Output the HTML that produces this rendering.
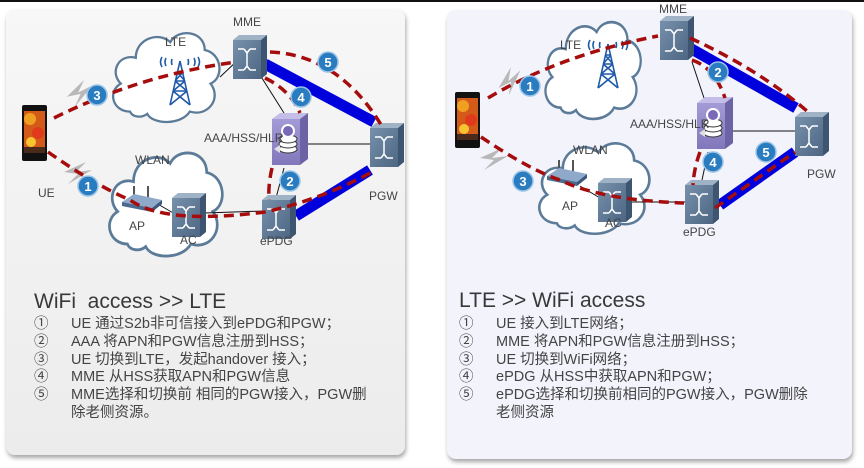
<!DOCTYPE html>
<html><head><meta charset="utf-8">
<style>
html,body{margin:0;padding:0;background:#fff;}
body{width:864px;height:468px;position:relative;overflow:hidden;font-family:"Liberation Sans","Noto Sans CJK SC",sans-serif;}
.panel{position:absolute;border-radius:9px;box-shadow:1px 3px 4px rgba(0,0,0,0.35);}
#p1{left:6px;top:9px;width:399px;height:446px;background:linear-gradient(#f7f7f7,#ececec);}
#p2{left:447px;top:10px;width:405px;height:449px;background:#f3f3fc;}
.t{position:absolute;color:#383838;font-size:21px;}
.l{position:absolute;color:#444;font-size:14.5px;line-height:17.8px;}
.l div{position:relative;padding-left:37px;white-space:nowrap;}
.l div span{position:absolute;left:0;}
svg{position:absolute;left:0;top:0;}
</style></head><body>
<div style="position:absolute;left:0;top:0;width:864px;height:2px;background:#111"></div>
<div class="panel" id="p1"></div>
<div class="panel" id="p2"></div>
<svg width="864" height="468" viewBox="0 0 864 468">
<defs>
<path id="cloud" d="M20,80 C5,80 0,62 12,55 C2,45 10,28 25,32 C25,15 45,8 55,18 C62,5 85,8 85,25 C100,28 102,50 90,55 C100,68 88,85 72,80 C65,92 40,92 35,82 C30,86 22,85 20,80 Z"/>
<linearGradient id="gs" x1="0" y1="0" x2="1" y2="1"><stop offset="0" stop-color="#7790ab"/><stop offset="1" stop-color="#4c6683"/></linearGradient>
<linearGradient id="ga" x1="0" y1="0" x2="0" y2="1"><stop offset="0" stop-color="#a39bd6"/><stop offset="1" stop-color="#8177bb"/></linearGradient>
<g id="sw">
<polygon points="0,5 6,0 34,0 28,5" fill="#9fb2c6"/>
<polygon points="28,5 34,0 34,39 28,44" fill="#3d5571"/>
<rect x="0" y="5" width="28" height="39" fill="url(#gs)"/>
<g stroke="#fff" stroke-width="1.5" fill="none">
<path d="M5,14 h6 M17,14 h6 M5,35 h6 M17,35 h6 M14,18 v13 M11,14 L14,18 M17,14 L14,18 M11,35 L14,31 M17,35 L14,31"/>
</g>
</g>
<g id="aaa">
<polygon points="0,6 8,0 36,0 28,6" fill="#c4bde8"/>
<polygon points="28,6 36,0 36,46 28,52" fill="#6c63a6"/>
<rect x="0" y="6" width="28" height="46" fill="url(#ga)"/>
<ellipse cx="16" cy="36" rx="9" ry="4" fill="#fff" stroke="#333" stroke-width="1"/>
<ellipse cx="16" cy="31" rx="9" ry="4" fill="#fff" stroke="#333" stroke-width="1"/>
<ellipse cx="16" cy="26" rx="9" ry="4" fill="#fff" stroke="#333" stroke-width="1"/>
<circle cx="16" cy="18" r="7" fill="#fff"/>
<circle cx="16" cy="18" r="5" fill="#7a68b8"/>
<path d="M2,36 l6,-4 v8 z" fill="#e0e0e0"/>
</g>
<g id="phone">
<rect x="0" y="0" width="25" height="56" rx="2" fill="#111"/>
<rect x="2" y="6" width="21" height="42" fill="#d45a1a"/>
<circle cx="8" cy="14" r="6" fill="#f0a020"/>
<circle cx="16" cy="28" r="6" fill="#e03a1a"/>
<circle cx="9" cy="37" r="5" fill="#f7c530"/>
<rect x="2" y="42" width="21" height="6" fill="#4a2a1a"/>
</g>
<g id="tower" stroke="#1e5aa8" stroke-width="1.6" fill="none">
<path d="M0,44 L10,0 L20,44 M3,30 H17 M5,20 H15 M7,11 H13 M3,30 L15,20 M5,20 L17,30 M5,20 L13,11 M7,11 L15,20 M0,44 L17,30 M3,30 L20,44"/>
<path d="M-8,-4 q-3,5 0,10 M-4,-3 q-2,4 0,8 M28,-4 q3,5 0,10 M24,-3 q2,4 0,8 M2,-2 q-1,3 0,6 M18,-2 q1,3 0,6"/>
</g>
<g id="router">
<line x1="12" y1="0" x2="12" y2="12" stroke="#555" stroke-width="2"/>
<line x1="26" y1="0" x2="26" y2="12" stroke="#555" stroke-width="2"/>
<polygon points="0,16 12,8 40,14 30,22" fill="#8ea9c9"/>
<polygon points="0,16 30,22 30,26 0,20" fill="#4b6a90"/>
<polygon points="30,22 40,14 40,18 30,26" fill="#3a587d"/>
</g>
<polygon id="bolt" points="0,10 22,0 12,10 28,8 4,22 14,12" fill="#b8b8b8"/>
</defs>

<!-- LEFT PANEL -->
<g fill="#fff" stroke="#5b7b98" stroke-width="2.2">
<use href="#cloud" transform="translate(107,22) scale(1.15,1.12)" style="stroke-width:2"/>
<use href="#cloud" transform="translate(103,140) scale(1.22,1.3)"/>
</g>
<g stroke="#111" stroke-width="1" fill="none">
<line x1="220" y1="77" x2="238" y2="60"/>
<line x1="260" y1="75" x2="284" y2="113"/>
<line x1="307" y1="144" x2="372" y2="144"/>
<line x1="156" y1="203" x2="175" y2="214"/>
<line x1="205" y1="213" x2="264" y2="211"/>
<line x1="284" y1="168" x2="276" y2="198"/>
</g>
<line x1="265" y1="64" x2="374" y2="122" stroke="#0000dd" stroke-width="11"/>
<line x1="296" y1="216" x2="370" y2="170" stroke="#0000dd" stroke-width="11"/>
<use href="#tower" x="170" y="61"/>
<use href="#router" x="122" y="186"/>
<use href="#sw" x="233" y="35"/>
<use href="#sw" x="370" y="123"/>
<use href="#sw" x="262" y="195"/>
<use href="#sw" x="172" y="193"/>
<use href="#aaa" x="272" y="113"/>
<use href="#phone" x="22" y="105"/>
<use href="#bolt" x="66" y="82" transform="rotate(-20 80 92)"/>
<use href="#bolt" x="64" y="162"/>
<g fill="none" stroke="#a50d0d" stroke-width="3.5" stroke-dasharray="10 6">
<path d="M54,118 Q140,75 236,62"/>
<path d="M270,52 Q340,55 383,128"/>
<path d="M265,78 Q290,90 300,113"/>
<path d="M272,168 Q268,185 269,200"/>
<path d="M48,152 Q95,185 130,200 Q165,225 265,212 Q320,200 372,172"/>
</g>
<g font-family="Liberation Sans" font-size="12" fill="#444">
<text x="233" y="26">MME</text>
<text x="165" y="46">LTE</text>
<text x="135" y="164">WLAN</text>
<text x="129" y="230">AP</text>
<text x="180" y="244">AC</text>
<text x="260" y="245">ePDG</text>
<text x="369" y="200">PGW</text>
<text x="38" y="197">UE</text>
<text x="204" y="142">AAA/HSS/HLR</text>
</g>

<!-- RIGHT PANEL -->
<g fill="#fff" stroke="#5b7b98" stroke-width="2.2">
<use href="#cloud" transform="translate(540,10) scale(1.03,1.22)"/>
<use href="#cloud" transform="translate(533,132) scale(1.19,1.14)"/>
</g>
<g stroke="#111" stroke-width="1" fill="none">
<line x1="692" y1="62" x2="704" y2="98"/>
<line x1="731" y1="131" x2="797" y2="131"/>
<line x1="580" y1="186" x2="600" y2="198"/>
<line x1="624" y1="202" x2="687" y2="202"/>
<line x1="708" y1="152" x2="702" y2="180"/>
</g>
<line x1="688" y1="47" x2="796" y2="108" stroke="#0000dd" stroke-width="11"/>
<line x1="720" y1="205" x2="795" y2="152" stroke="#0000dd" stroke-width="11"/>
<use href="#tower" x="598" y="44"/>
<use href="#router" x="547" y="160"/>
<use href="#sw" x="660" y="16"/>
<use href="#sw" x="795" y="112"/>
<use href="#sw" x="685" y="180"/>
<use href="#sw" x="598" y="178"/>
<use href="#aaa" x="697" y="97"/>
<use href="#phone" x="455" y="92"/>
<use href="#bolt" x="496" y="70" transform="rotate(-35 510 80)"/>
<use href="#bolt" x="480" y="148"/>
<g fill="none" stroke="#a50d0d" stroke-width="3.5" stroke-dasharray="10 6">
<path d="M488,98 Q560,55 658,36"/>
<path d="M690,38 Q760,70 808,112"/>
<path d="M692,60 Q715,68 725,98"/>
<path d="M700,152 Q694,168 693,185"/>
<path d="M481,137 Q530,170 560,180 Q600,200 684,203"/>
<path d="M715,208 L795,152"/>
</g>
<g font-family="Liberation Sans" font-size="12" fill="#444">
<text x="659" y="13">MME</text>
<text x="560" y="49">LTE</text>
<text x="573" y="154">WLAN</text>
<text x="562" y="210">AP</text>
<text x="605" y="227">AC</text>
<text x="683" y="236">ePDG</text>
<text x="807" y="178">PGW</text>
<text x="630" y="128">AAA/HSS/HLR</text>
</g>

<!-- BADGES -->
<g font-family="Liberation Sans" font-weight="bold" font-size="13" fill="#fff" text-anchor="middle">
<g><circle cx="97" cy="95" r="10" fill="#2a7cc1" stroke="#9cc4e6" stroke-width="1.5"/><text x="97" y="100">3</text></g>
<g><circle cx="88" cy="186" r="10" fill="#2a7cc1" stroke="#9cc4e6" stroke-width="1.5"/><text x="88" y="191">1</text></g>
<g><circle cx="328" cy="62" r="10" fill="#2a7cc1" stroke="#9cc4e6" stroke-width="1.5"/><text x="328" y="67">5</text></g>
<g><circle cx="301" cy="97" r="10" fill="#2a7cc1" stroke="#9cc4e6" stroke-width="1.5"/><text x="301" y="102">4</text></g>
<g><circle cx="290" cy="181" r="10" fill="#2a7cc1" stroke="#9cc4e6" stroke-width="1.5"/><text x="290" y="186">2</text></g>
<g><circle cx="530" cy="86" r="10" fill="#2a7cc1" stroke="#9cc4e6" stroke-width="1.5"/><text x="530" y="91">1</text></g>
<g><circle cx="718" cy="72" r="10" fill="#2a7cc1" stroke="#9cc4e6" stroke-width="1.5"/><text x="718" y="77">2</text></g>
<g><circle cx="713" cy="162" r="10" fill="#2a7cc1" stroke="#9cc4e6" stroke-width="1.5"/><text x="713" y="167">4</text></g>
<g><circle cx="523" cy="181" r="10" fill="#2a7cc1" stroke="#9cc4e6" stroke-width="1.5"/><text x="523" y="186">3</text></g>
<g><circle cx="766" cy="152" r="10" fill="#2a7cc1" stroke="#9cc4e6" stroke-width="1.5"/><text x="766" y="157">5</text></g>
</g>
</svg>

<div class="t" style="left:34px;top:290px;">WiFi&nbsp; access &gt;&gt; LTE</div>
<div class="l" style="left:34px;top:316px;">
<div><span>①</span>UE 通过S2b非可信接入到ePDG和PGW；</div>
<div><span>②</span>AAA 将APN和PGW信息注册到HSS；</div>
<div><span>③</span>UE 切换到LTE，发起handover 接入；</div>
<div><span>④</span>MME 从HSS获取APN和PGW信息</div>
<div><span>⑤</span>MME选择和切换前 相同的PGW接入，PGW删</div>
<div>除老侧资源。</div>
</div>

<div class="t" style="left:459px;top:289px;">LTE &gt;&gt; WiFi access</div>
<div class="l" style="left:459px;top:316px;">
<div><span>①</span>UE 接入到LTE网络；</div>
<div><span>②</span>MME 将APN和PGW信息注册到HSS；</div>
<div><span>③</span>UE 切换到WiFi网络；</div>
<div><span>④</span>ePDG 从HSS中获取APN和PGW；</div>
<div><span>⑤</span>ePDG选择和切换前相同的PGW接入，PGW删除</div>
<div>老侧资源</div>
</div>
</body></html>
